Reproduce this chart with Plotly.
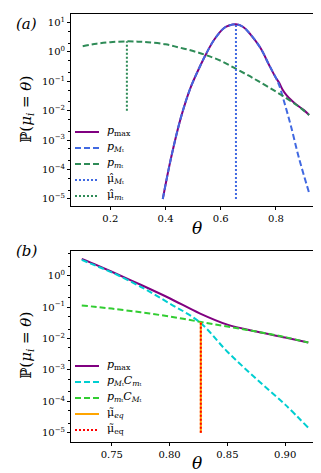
import plotly.graph_objects as go

# panel (a): densities vs theta
theta_a_max = [0.39, 0.42, 0.455, 0.49, 0.527, 0.545, 0.576, 0.612, 0.63, 0.655, 0.68, 0.708,
               0.744, 0.775, 0.80, 0.811, 0.823, 0.838, 0.853, 0.868, 0.883, 0.90, 0.92]
p_max_a = [1.0e-5, 2.5e-4, 5.6e-3, 0.059, 0.36, 0.79, 2.6, 6.5, 7.9, 8.7, 7.2, 3.9,
           1.35, 0.36, 0.13, 0.091, 0.054, 0.034, 0.024, 0.018, 0.014, 0.0107, 0.0072]

theta_a_M = [0.39, 0.42, 0.455, 0.49, 0.527, 0.545, 0.576, 0.612, 0.63, 0.655, 0.68, 0.708,
             0.744, 0.775, 0.80, 0.811, 0.829, 0.853, 0.883, 0.92]
p_M_a = [1.0e-5, 2.5e-4, 5.6e-3, 0.059, 0.36, 0.79, 2.6, 6.5, 7.9, 8.7, 7.2, 3.9,
         1.35, 0.36, 0.13, 0.076, 0.021, 3.3e-3, 2.5e-4, 1.6e-5]

theta_a_m = [0.10, 0.15, 0.20, 0.26, 0.30, 0.335, 0.40, 0.45, 0.50, 0.545, 0.60, 0.654,
             0.70, 0.733, 0.78, 0.829, 0.877, 0.92]
p_m_a = [1.55, 1.9, 2.14, 2.29, 2.24, 2.14, 1.82, 1.41, 1.07, 0.79, 0.50, 0.27,
         0.158, 0.105, 0.058, 0.030, 0.0151, 0.0072]

mu_M_hat = 0.655
mu_M_span = [1e-5, 8.7]
mu_m_hat = 0.26
mu_m_span = [1e-2, 2.29]

# panel (b): zoom on the tail
theta_b = [0.724, 0.735, 0.75, 0.775, 0.80, 0.826, 0.85, 0.875, 0.90, 0.92]
p_max_b = [3.4, 2.3, 1.32, 0.51, 0.19, 0.063, 0.0275, 0.0166, 0.0107, 0.0074]
pM_Cm_b = [3.16, 2.14, 1.26, 0.44, 0.13, 0.033, 0.0038, 5.2e-4, 7.9e-5, 1.45e-5]
pm_CM_b = [0.112, 0.102, 0.089, 0.068, 0.050, 0.034, 0.024, 0.0166, 0.011, 0.0074]

mu_eq = 0.827
mu_eq_span = [1e-5, 0.033]

decades_a = [1, 0, -1, -2, -3, -4, -5]
decades_b = [0, -1, -2, -3, -4, -5]

FONT = "DejaVu Serif"
PURPLE = "#800080"
BLUE = "#4169E1"
SEAGREEN = "#2E8B57"
CYAN = "#00CED1"
LIME = "#32CD32"
ORANGE = "#FFA500"
RED = "#FF0000"
DASH = "6px,3px"
DOT = "2px,2px"

W, H = 321, 473
ML, MR, MT, MB = 63, 8, 6, 39


def px_x(px):
    return (px - ML) / (W - ML - MR)


def px_y(py):
    return (H - MB - py) / (H - MT - MB)


fig = go.Figure()


def curve(x, y, color, dash, xa, ya):
    fig.add_trace(go.Scatter(x=x, y=y, mode="lines", line_shape="spline",
                             line=dict(color=color, width=2, dash=dash),
                             xaxis=xa, yaxis=ya, showlegend=False))


# (a)
curve(theta_a_max, p_max_a, PURPLE, "solid", "x", "y")
curve(theta_a_M, p_M_a, BLUE, DASH, "x", "y")
curve(theta_a_m, p_m_a, SEAGREEN, DASH, "x", "y")
curve([mu_M_hat, mu_M_hat], mu_M_span, BLUE, DOT, "x", "y")
curve([mu_m_hat, mu_m_hat], mu_m_span, SEAGREEN, DOT, "x", "y")

# (b)
curve(theta_b, p_max_b, PURPLE, "solid", "x2", "y2")
curve(theta_b, pM_Cm_b, CYAN, DASH, "x2", "y2")
curve(theta_b, pm_CM_b, LIME, DASH, "x2", "y2")
curve([mu_eq, mu_eq], mu_eq_span, ORANGE, "solid", "x2", "y2")
curve([mu_eq, mu_eq], mu_eq_span, RED, DOT, "x2", "y2")

# hand-made legends (matplotlib-like compact spacing)
legend_a = [("<i>p</i><sub>max</sub>", PURPLE, "solid"),
            ("<i>p</i><sub><i>M</i>ₜ</sub>", BLUE, DASH),
            ("<i>p</i><sub><i>m</i>ₜ</sub>", SEAGREEN, DASH),
            ("μ̂<sub><i>M</i>ₜ</sub>", BLUE, DOT),
            ("μ̂<sub><i>m</i>ₜ</sub>", SEAGREEN, DOT)]
legend_b = [("<i>p</i><sub>max</sub>", PURPLE, "solid"),
            ("<i>p</i><sub><i>M</i>ₜ</sub><i>C</i><sub><i>m</i>ₜ</sub>", CYAN, DASH),
            ("<i>p</i><sub><i>m</i>ₜ</sub><i>C</i><sub><i>M</i>ₜ</sub>", LIME, DASH),
            ("μ̃<sub><i>eq</i></sub>", ORANGE, "solid"),
            ("μ̃<sub>eq</sub>", RED, DOT)]

shapes, annotations = [], []


def add_legend(entries, y_top):
    for i, (label, color, dash) in enumerate(entries):
        yc = y_top + 16 * i
        shapes.append(dict(type="line", xref="paper", yref="paper",
                           x0=px_x(67), x1=px_x(91), y0=px_y(yc), y1=px_y(yc),
                           line=dict(color=color, width=2, dash=dash)))
        annotations.append(dict(text=label, xref="paper", yref="paper",
                                x=px_x(97), y=px_y(yc - 1), xanchor="left", yanchor="middle",
                                showarrow=False, font=dict(family=FONT, size=11, color="black")))


add_legend(legend_a, 124)
add_legend(legend_b, 358)

for lbl, ytop in (("<i>(a)</i>", 5), ("<i>(b)</i>", 232)):
    annotations.append(dict(text=lbl, xref="paper", yref="paper", x=px_x(6), y=px_y(ytop),
                            xanchor="left", yanchor="top", showarrow=False,
                            font=dict(family=FONT, size=15, color="black")))
# theta axis labels placed like the reference
for yc in (220, 455):
    annotations.append(dict(text="<i>θ</i>", xref="paper", yref="paper", x=px_x(189), y=px_y(yc),
                            xanchor="center", yanchor="middle", showarrow=False,
                            font=dict(family=FONT, size=17, color="black")))
# y axis labels
for yc in (102, 338):
    annotations.append(dict(text="ℙ(<i>μ<sub>i</sub></i> = <i>θ</i>)", xref="paper", yref="paper",
                            x=px_x(18), y=px_y(yc), xanchor="center", yanchor="middle",
                            textangle=-90, showarrow=False,
                            font=dict(family=FONT, size=15, color="black")))


def power_labels(decades):
    return ["10<sup>%s</sup>" % (str(d).replace("-", "−")) for d in decades]


axis_common = dict(showline=True, mirror=True, linecolor="black", linewidth=1,
                   ticks="outside", ticklen=3, tickcolor="black", showgrid=False,
                   zeroline=False, tickfont=dict(family=FONT, size=10, color="black"))
yminor = dict(ticks="outside", ticklen=2, tickcolor="black", showgrid=False)

fig.update_layout(
    width=W, height=H,
    margin=dict(l=ML, r=MR, t=MT, b=MB),
    paper_bgcolor="white", plot_bgcolor="white",
    font=dict(family=FONT, color="black"),
    showlegend=False,
    xaxis=dict(axis_common, domain=[0, 1], anchor="y", range=[0.0576, 0.963],
               tickvals=[0.2, 0.4, 0.6, 0.8], ticktext=["0.2", "0.4", "0.6", "0.8"]),
    yaxis=dict(axis_common, type="log", domain=[px_y(198), 1], anchor="x", range=[-5.24, 1.29],
               tickvals=[10 ** d for d in decades_a], ticktext=power_labels(decades_a),
               minor=yminor),
    xaxis2=dict(axis_common, domain=[0, 1], anchor="y2", range=[0.7147, 0.931],
                tickvals=[0.75, 0.80, 0.85, 0.90], ticktext=["0.75", "0.80", "0.85", "0.90"]),
    yaxis2=dict(axis_common, type="log", domain=[0, px_y(243)], anchor="x2", range=[-5.29, 0.78],
                tickvals=[10 ** d for d in decades_b], ticktext=power_labels(decades_b),
                minor=yminor),
    shapes=shapes,
    annotations=annotations,
)

fig.write_html("out.html")
